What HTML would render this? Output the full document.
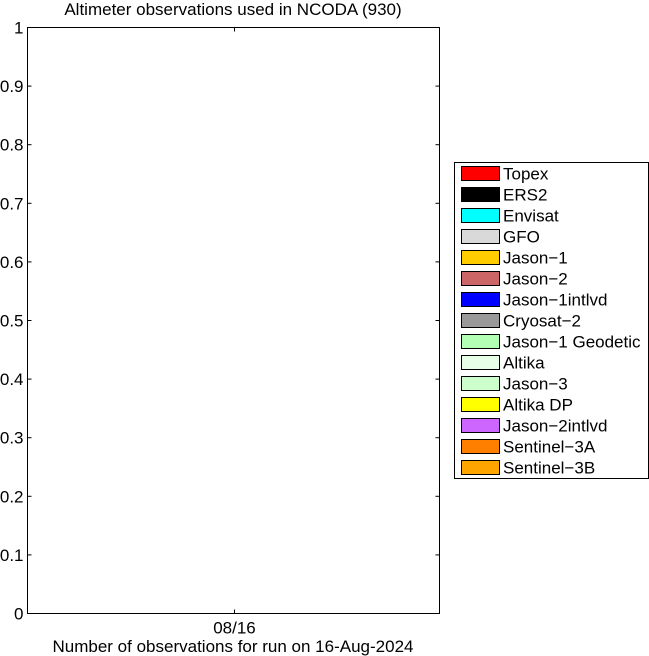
<!DOCTYPE html>
<html><head><meta charset="utf-8"><style>
body{margin:0;background:#fff;width:649px;height:656px;overflow:hidden}
svg{display:block;font-family:"Liberation Sans",sans-serif}
</style></head><body>
<svg id="c" width="649" height="656">
<text x="233" y="15" font-size="17" text-anchor="middle">Altimeter observations used in NCODA (930)</text>
<rect x="27.5" y="27.5" width="412" height="586" fill="#fff" stroke="#000"/>
<g id="yt"></g>
<g id="xt"></g>
<text x="233" y="652" font-size="17" text-anchor="middle">Number of observations for run on 16-Aug-2024</text>
<g id="lg"><rect x="454.5" y="162.5" width="194" height="316" fill="#fff" stroke="#000"/></g>
</svg>
<script>
const yTicks=[0,0.1,0.2,0.3,0.4,0.5,0.6,0.7,0.8,0.9,1];
const yLabels=["0","0.1","0.2","0.3","0.4","0.5","0.6","0.7","0.8","0.9","1"];
const xCategories=["08/16"];
const seriesNames=["Topex","ERS2","Envisat","GFO","Jason\u22121","Jason\u22122","Jason\u22121intlvd","Cryosat\u22122","Jason\u22121 Geodetic","Altika","Jason\u22123","Altika DP","Jason\u22122intlvd","Sentinel\u22123A","Sentinel\u22123B"];
const seriesColors=["#ff0000","#000000","#00ffff","#d9d9d9","#ffcc00","#cc6666","#0000ff","#999999","#b3ffb3","#e6ffe6","#ccffcc","#ffff00","#cc66ff","#ff7f00","#ffa500"];
const seriesValues=[[0],[0],[0],[0],[0],[0],[0],[0],[0],[0],[0],[0],[0],[0],[0]];
const NS="http://www.w3.org/2000/svg";
const L=27.5,R=439.5,T=27.5,B=613.5;
const yS=v=>B-(v-0)/(1-0)*(B-T);
const xS=i=>L+(i+0.5)*(R-L)/xCategories.length;
function mk(t,a,p){const e=document.createElementNS(NS,t);for(const k in a)e.setAttribute(k,a[k]);p.appendChild(e);return e;}
const yt=document.getElementById('yt');
yTicks.forEach((v,i)=>{const y=yS(v);
 const l1=mk('line',{x1:L,x2:L+4,y1:y,y2:y,stroke:'#000'},yt);
 
 
 mk('line',{x1:R-4,x2:R,y1:y,y2:y,stroke:'#000'},yt);
 const t=mk('text',{x:L-4,y:y+6,'font-size':17,'text-anchor':'end'},yt);t.textContent=yLabels[i];
 
 
});
const xt=document.getElementById('xt');
xCategories.forEach((c,i)=>{const x=Math.round(xS(i))+0.5;
 mk('line',{x1:x,x2:x,y1:T,y2:T+4,stroke:'#000'},xt);
 mk('line',{x1:x,x2:x,y1:B-4,y2:B,stroke:'#000'},xt);
 const t=mk('text',{x:x,y:B+20,'font-size':17,'text-anchor':'middle'},xt);t.textContent=c;
 
 
 let acc=0;
 seriesValues.forEach((s,j)=>{const v=s[i];if(v>0){const r=mk('rect',{x:x-60,width:120,y:yS(acc+v),height:yS(acc)-yS(acc+v),fill:seriesColors[j],stroke:'#000'},xt);
  
  acc+=v;}});
});
const lg=document.getElementById('lg');
seriesNames.forEach((n,i)=>{const y=166.5+i*21;
 const g=mk('g',{},lg);
 
 
 mk('rect',{x:461.5,y:y,width:38,height:14,fill:seriesColors[i],stroke:'#000'},g);
 const t=mk('text',{x:503,y:y+13,'font-size':17},g);t.textContent=n;
});
</script>
</body></html>
